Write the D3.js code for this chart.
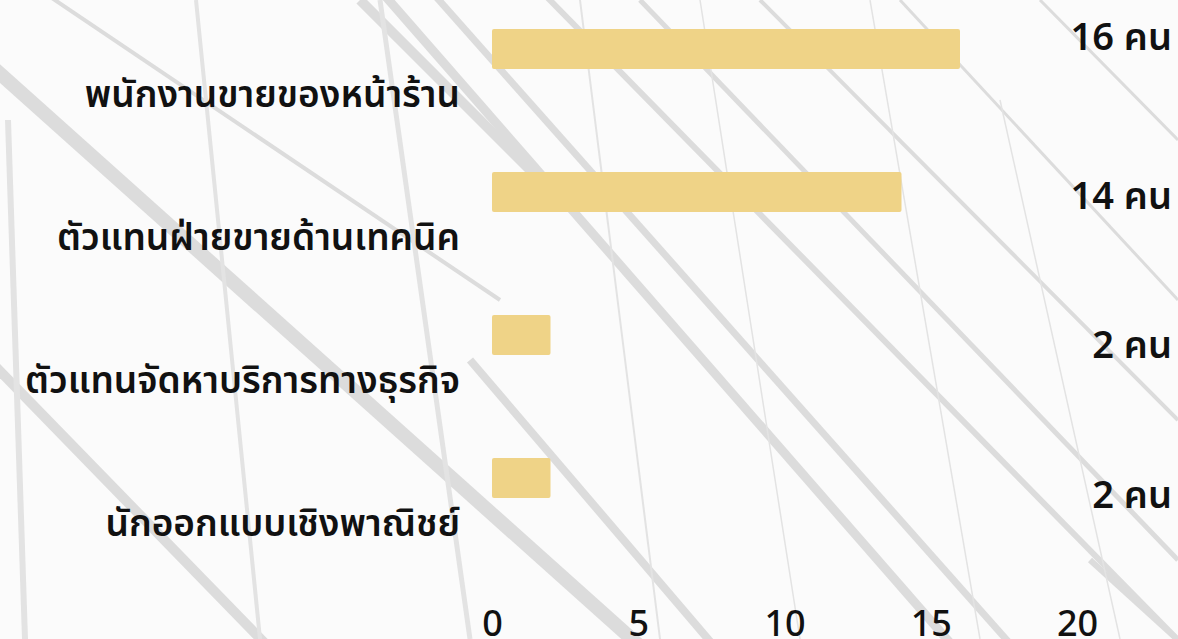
<!DOCTYPE html>
<html>
<head>
<meta charset="utf-8">
<script src="https://cdn.jsdelivr.net/npm/d3@7"></script>
<style>
  html, body { margin: 0; padding: 0; background: #fafafa; overflow: hidden; }
  svg { display: block; }
  text { font-family: "Noto Sans Thai", "Noto Sans", "Loma", sans-serif; fill: #111; }
</style>
</head>
<body>
<script>
var width = 1178,
    height = 639;

// chart data
var categories = ["พนักงานขายของหน้าร้าน", "ตัวแทนฝ่ายขายด้านเทคนิค", "ตัวแทนจัดหาบริการทางธุรกิจ", "นักออกแบบเชิงพาณิชย์"];
var values = [16, 14, 2, 2];
var valueLabels = ["16 คน", "14 คน", "2 คน", "2 คน"];
var tickValues = [0, 5, 10, 15, 20];

// background decoration (photo of a glass facade, roughly)
var diagLines = [
    { x0: -60, y0: 20, x1: 700, y1: 700, w: 14 },
    { x0: -40, y0: 330, x1: 320, y1: 700, w: 10 },
    { x0: 40, y0: -10, x1: 500, y1: 300, w: 4 },
    { x0: 380, y0: -10, x1: 1000, y1: 700, w: 9 },
    { x0: 430, y0: -10, x1: 1060, y1: 700, w: 7 },
    { x0: 540, y0: -10, x1: 1178, y1: 640, w: 6 },
    { x0: 640, y0: 0, x1: 1178, y1: 560, w: 5 },
    { x0: 760, y0: 0, x1: 1178, y1: 420, w: 4 },
    { x0: 900, y0: 0, x1: 1178, y1: 300, w: 3 },
    { x0: 1040, y0: 0, x1: 1178, y1: 140, w: 3 },
    { x0: 470, y0: 360, x1: 760, y1: 700, w: 8 },
    { x0: 360, y0: 0, x1: 560, y1: 200, w: 10 },
    { x0: 1090, y0: 560, x1: 1178, y1: 640, w: 6 }
];
var steepLines = [
    { x0: 196, y0: 0, x1: 260, y1: 639, w: 4 },
    { x0: 380, y0: 0, x1: 470, y1: 639, w: 5 },
    { x0: 8, y0: 120, x1: 25, y1: 639, w: 6 },
    { x0: 580, y0: 0, x1: 660, y1: 639, w: 2 },
    { x0: 700, y0: 0, x1: 800, y1: 639, w: 1.5 },
    { x0: 870, y0: 0, x1: 980, y1: 639, w: 1.5 },
    { x0: 1000, y0: 100, x1: 1120, y1: 639, w: 1.5 }
];

var svg = d3.select("body")
    .append("svg")
    .attr("width", width)
    .attr("height", height);

svg.append("rect")
    .attr("width", width)
    .attr("height", height)
    .attr("fill", "#fbfbfb");

var bg = svg.append("g").attr("class", "bg");

bg.selectAll("line.diag")
    .data(diagLines)
    .enter().append("line")
    .attr("class", "diag")
    .attr("x1", function (d) { return d.x0; })
    .attr("y1", function (d) { return d.y0; })
    .attr("x2", function (d) { return d.x1; })
    .attr("y2", function (d) { return d.y1; })
    .attr("stroke", "#dcdcdc")
    .attr("stroke-width", function (d) { return d.w; });

bg.selectAll("line.steep")
    .data(steepLines)
    .enter().append("line")
    .attr("class", "steep")
    .attr("x1", function (d) { return d.x0; })
    .attr("y1", function (d) { return d.y0; })
    .attr("x2", function (d) { return d.x1; })
    .attr("y2", function (d) { return d.y1; })
    .attr("stroke", "#e3e3e3")
    .attr("stroke-width", function (d) { return d.w; });

// scales
var x = d3.scaleLinear()
    .domain([0, 20])
    .range([492, 1077]);

var y = d3.scaleBand()
    .domain(categories)
    .range([29, 498])
    .paddingInner(0.72)
    .paddingOuter(0);

var chart = svg.append("g");

chart.selectAll("rect.bar")
    .data(values)
    .enter().append("rect")
    .attr("class", "bar")
    .attr("x", x(0))
    .attr("y", function (d, i) { return y(categories[i]); })
    .attr("width", function (d) { return x(d) - x(0); })
    .attr("height", y.bandwidth())
    .attr("rx", 2)
    .attr("fill", "#efd387");

// category labels sit below the bars' centre
chart.selectAll("text.cat")
    .data(categories)
    .enter().append("text")
    .attr("class", "cat")
    .attr("x", 460)
    .attr("y", function (d) { return y(d) + y.bandwidth() / 2 + 47; })
    .attr("text-anchor", "end")
    .attr("dominant-baseline", "central")
    .style("font-size", "37px")
    .style("font-weight", 600)
    .text(function (d) { return d; });

// value labels at the right edge
chart.selectAll("text.val")
    .data(valueLabels)
    .enter().append("text")
    .attr("class", "val")
    .attr("x", 1172)
    .attr("y", function (d, i) { return y(categories[i]) + y.bandwidth() / 2 + (i === 0 ? -11 : 5 + (i - 1) * 7); })
    .attr("text-anchor", "end")
    .attr("dominant-baseline", "central")
    .style("font-size", "38px")
    .style("font-weight", 600)
    .text(function (d) { return d; });

// x axis, labels only
var xAxis = d3.axisBottom(x)
    .tickValues(tickValues)
    .tickSize(0)
    .tickPadding(0);

var ax = chart.append("g")
    .attr("transform", "translate(0,610)")
    .call(xAxis);

ax.select(".domain").remove();
ax.selectAll("text")
    .attr("dy", "0.71em")
    .style("font-size", "36px")
    .style("font-weight", 500)
    .style("fill", "#111")
    .style("font-family", "\"Noto Sans Thai\", \"Noto Sans\", sans-serif");
</script>
</body>
</html>
